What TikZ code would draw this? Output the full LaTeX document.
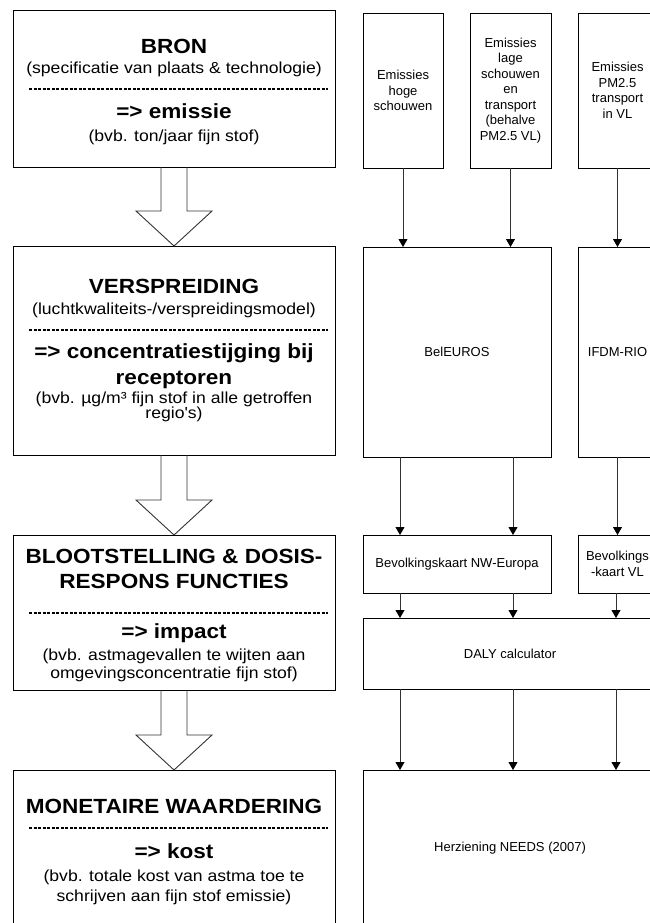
\documentclass[tikz,border=0pt]{standalone}
\usepackage{fontspec}
\setmainfont{Liberation Sans}
\newfontfamily\widefont{Liberation Sans}[FakeStretch=1.1]
\usetikzlibrary{calc,arrows.meta}
\begin{document}
\begin{tikzpicture}[x=1pt,y=-1pt,
  box/.style={draw=black,line width=0.9pt,rectangle,inner sep=0pt,outer sep=0pt,anchor=north west},
  head/.style={font=\widefont\fontsize{20.5}{25}\selectfont\bfseries,inner sep=0pt,anchor=base},
  sub/.style={font=\widefont\fontsize{16}{20}\selectfont,inner sep=0pt,anchor=base},
  sepline/.style={line width=1.8pt,dash pattern=on 3.2pt off 1.3pt},
  bigarrow/.style={draw=black!80,line width=0.9pt},
  small/.style={font=\fontsize{13}{15.5}\selectfont,align=center,inner sep=0pt},
  flow/.style={draw=black!80,line width=0.8pt,-{Triangle[width=9pt,length=8pt,black]}}]
\useasboundingbox (0,0) rectangle (650,923);
\clip (0,0) rectangle (650,923);

% ---------- left column boxes
\node[box,minimum width=322pt,minimum height=157pt] (bron) at (13,10) {};
\node[box,minimum width=322pt,minimum height=209pt] (verspr) at (13,246) {};
\node[box,minimum width=322pt,minimum height=155pt] (bloot) at (13,535) {};
\node[box,minimum width=322pt,minimum height=170pt] (mon) at (13,770) {};

% box 1
\node[head] (h1) at (174,54) {BRON};
\node[sub] (s1) at (174,74) {(specificatie van plaats \& technologie)};
\draw[sepline] (29,89) -- (328,89);
\node[head] (r1) at (174,119) {=> emissie};
\node[sub] (e1) at (174,141) {(bvb. ton/jaar fijn stof)};

% box 2
\node[head] (h2) at (174,293) {VERSPREIDING};
\node[sub] (s2) at (174,314) {(luchtkwaliteits-/verspreidingsmodel)};
\draw[sepline] (29,330) -- (328,330);
\node[head] (r2a) at (174,358) {=> concentratiestijging bij};
\node[head] (r2b) at (174,384) {receptoren};
\node[sub] (e2a) at (174,403) {(bvb. µg/m³ fijn stof in alle getroffen};
\node[sub] (e2b) at (174,418) {regio's)};

% box 3
\node[head] (h3a) at (174,563) {BLOOTSTELLING \& DOSIS-};
\node[head] (h3b) at (174,588) {RESPONS FUNCTIES};
\draw[sepline] (29,613) -- (328,613);
\node[head] (r3) at (174,638) {=> impact};
\node[sub] (e3a) at (174,660) {(bvb. astmagevallen te wijten aan};
\node[sub] (e3b) at (174,678) {omgevingsconcentratie fijn stof)};

% box 4
\node[head] (h4) at (174,813) {MONETAIRE WAARDERING};
\draw[sepline] (29,828) -- (328,828);
\node[head] (r4) at (174,858) {=> kost};
\node[sub] (e4a) at (174,881) {(bvb. totale kost van astma toe te};
\node[sub] (e4b) at (174,901) {schrijven aan fijn stof emissie)};

% hollow arrows
\newcommand{\hollowarrow}[2]{%
  \draw[bigarrow] let \p1=(#1.south), \p2=(#2.north) in
    (\x1-13pt,\y1) -- (\x1-13pt,\y2+35pt) -- (\x1-38pt,\y2+35pt) -- (\x1,\y2)
    -- (\x1+38pt,\y2+35pt) -- (\x1+13pt,\y2+35pt) -- (\x1+13pt,\y1);}
\hollowarrow{bron}{verspr}
\hollowarrow{verspr}{bloot}
\hollowarrow{bloot}{mon}

% ---------- right column boxes
\node[box,minimum width=80pt,minimum height=155pt] (ea) at (363,13) {};
\node[box,minimum width=81pt,minimum height=155pt] (eb) at (470,13) {};
\node[box,minimum width=79pt,minimum height=155pt] (ec) at (578,13) {};
\node[box,minimum width=188pt,minimum height=210pt] (bel) at (363,247) {};
\node[box,minimum width=79pt,minimum height=210pt] (ifdm) at (578,247) {};
\node[box,minimum width=188pt,minimum height=58pt] (nw) at (363,535) {};
\node[box,minimum width=79pt,minimum height=58pt] (vl) at (578,535) {};
\node[box,minimum width=294pt,minimum height=71pt] (daly) at (363,618) {};
\node[box,minimum width=294pt,minimum height=170pt] (needs) at (363,770) {};

\node[small] (tea) at (ea.center) {Emissies\\hoge\\schouwen};
\node[small] (teb) at (eb.center) {Emissies\\lage\\schouwen\\en\\transport\\(behalve\\PM2.5 VL)};
\node[small] (tec) at (ec.center) {Emissies\\PM2.5\\transport\\in VL};
\node[small] (tbel) at (bel.center) {BelEUROS};
\node[small] (tifdm) at (ifdm.center) {IFDM-RIO};
\node[small] (tnw) at (nw.center) {Bevolkingskaart NW-Europa};
\node[small] (tvl) at (vl.center) {Bevolkings\\-kaart VL};
\node[small] (tdaly) at (daly.center) {DALY calculator};
\node[small] (tneeds) at ($(needs.north)+(0,78)$) {Herziening NEEDS (2007)};

% connectors
\draw[flow] (ea.south) -- (ea.south |- bel.north);
\draw[flow] (eb.south) -- (eb.south |- bel.north);
\draw[flow] (ec.south) -- (ec.south |- ifdm.north);
\draw[flow] (400,0 |- bel.south) -- (400,0 |- nw.north);
\draw[flow] (513,0 |- bel.south) -- (513,0 |- nw.north);
\draw[flow] (ifdm.south) -- (ifdm.south |- vl.north);
\draw[flow] (400,0 |- nw.south) -- (400,0 |- daly.north);
\draw[flow] (513,0 |- nw.south) -- (513,0 |- daly.north);
\draw[flow] (616,0 |- vl.south) -- (616,0 |- daly.north);
\draw[flow] (400,0 |- daly.south) -- (400,0 |- needs.north);
\draw[flow] (513,0 |- daly.south) -- (513,0 |- needs.north);
\draw[flow] (616,0 |- daly.south) -- (616,0 |- needs.north);
\end{tikzpicture}
\end{document}
